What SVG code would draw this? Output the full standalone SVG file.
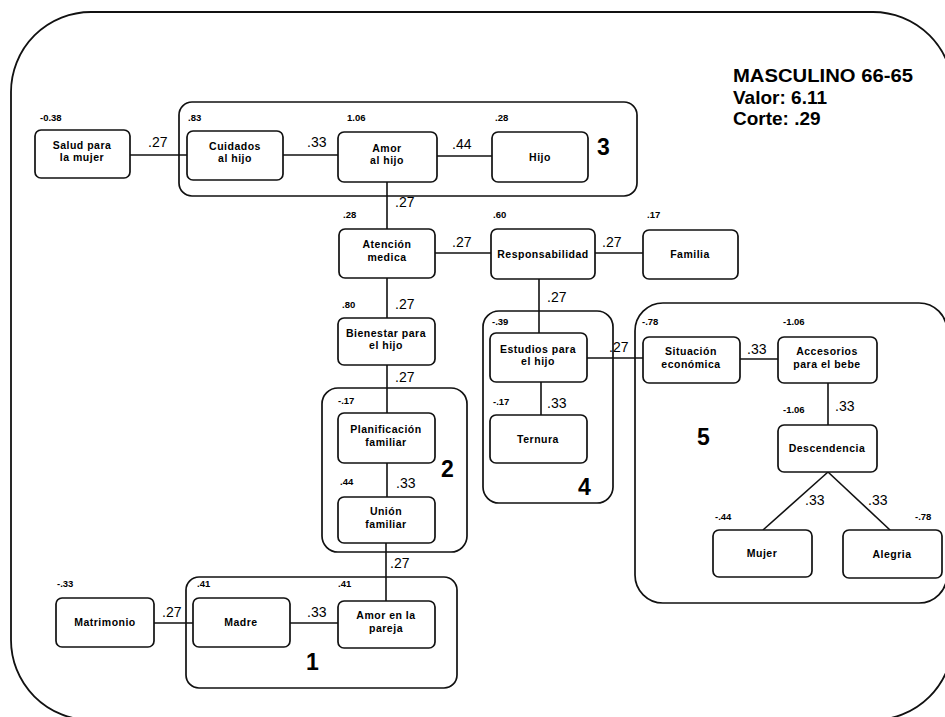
<svg xmlns="http://www.w3.org/2000/svg" width="945" height="717" viewBox="0 0 945 717">
<style>
.frame{fill:none;stroke:#111;stroke-width:1.8}
.grp{fill:none;stroke:#111;stroke-width:1.7}
.edge{stroke:#111;stroke-width:1.6;fill:none}
.box{fill:#fff;stroke:#111;stroke-width:1.7}
text{font-family:"Liberation Sans",Arial,sans-serif;fill:#000}
.nt{font-size:10.5px;font-weight:bold;text-anchor:middle;letter-spacing:0.5px}
.val{font-size:9.5px;font-weight:bold}
.el{font-size:14px}
.gn{font-size:23px;font-weight:bold}
.title{font-size:19px;font-weight:bold}
</style>
<rect class="frame" x="11" y="12" width="942" height="708" rx="80"/>
<g id="title">
<text class="title" x="733" y="82" textLength="180" lengthAdjust="spacingAndGlyphs">MASCULINO 66-65</text>
<text class="title" x="733" y="104">Valor: 6.11</text>
<text class="title" x="733" y="125">Corte: .29</text>
</g>
<g id="groups">
<g id="group3"><rect class="grp" x="179" y="102" width="458" height="94" rx="13"/><text class="gn" x="597" y="155">3</text></g>
<g id="group2"><rect class="grp" x="322" y="388" width="145" height="164" rx="16"/><text class="gn" x="441" y="477">2</text></g>
<g id="group4"><rect class="grp" x="483" y="311" width="130" height="192" rx="16"/><text class="gn" x="578" y="495">4</text></g>
<g id="group5"><rect class="grp" x="635" y="303" width="312" height="300" rx="28"/><text class="gn" x="697" y="445">5</text></g>
<g id="group1"><rect class="grp" x="186" y="577" width="271" height="111" rx="13"/><text class="gn" x="306" y="670">1</text></g>
</g>
<g id="connectors">
<line class="edge" x1="130" y1="155" x2="187" y2="155"/>
<line class="edge" x1="283" y1="155" x2="338" y2="155"/>
<line class="edge" x1="437" y1="156" x2="492" y2="156"/>
<line class="edge" x1="387" y1="182" x2="387" y2="229"/>
<line class="edge" x1="435" y1="253" x2="491" y2="253"/>
<line class="edge" x1="595" y1="253" x2="643" y2="253"/>
<line class="edge" x1="539" y1="279" x2="539" y2="333"/>
<line class="edge" x1="387" y1="278" x2="387" y2="318"/>
<line class="edge" x1="387" y1="365" x2="387" y2="413"/>
<line class="edge" x1="387" y1="463" x2="387" y2="497"/>
<line class="edge" x1="386" y1="543" x2="386" y2="601"/>
<line class="edge" x1="541" y1="382" x2="541" y2="415"/>
<line class="edge" x1="587" y1="358" x2="643" y2="358"/>
<line class="edge" x1="740" y1="359" x2="778" y2="359"/>
<line class="edge" x1="828" y1="383" x2="828" y2="425"/>
<line class="edge" x1="828" y1="472" x2="763" y2="530"/>
<line class="edge" x1="828" y1="472" x2="890" y2="530"/>
<line class="edge" x1="154" y1="623" x2="193" y2="623"/>
<line class="edge" x1="290" y1="623" x2="338" y2="623"/>
<g id="edge-labels">
<text class="el" x="148" y="147">.27</text>
<text class="el" x="307" y="147">.33</text>
<text class="el" x="452" y="149">.44</text>
<text class="el" x="395" y="207">.27</text>
<text class="el" x="452" y="247">.27</text>
<text class="el" x="602" y="247">.27</text>
<text class="el" x="547" y="302">.27</text>
<text class="el" x="395" y="309">.27</text>
<text class="el" x="395" y="382">.27</text>
<text class="el" x="396" y="488">.33</text>
<text class="el" x="547" y="408">.33</text>
<text class="el" x="609" y="352">.27</text>
<text class="el" x="747" y="354">.33</text>
<text class="el" x="835" y="411">.33</text>
<text class="el" x="805" y="505">.33</text>
<text class="el" x="868" y="505">.33</text>
<text class="el" x="390" y="568">.27</text>
<text class="el" x="162" y="617">.27</text>
<text class="el" x="307" y="617">.33</text>
</g>
</g>
<g id="salud"><rect class="box" x="35" y="130" width="95" height="48" rx="6"/><text class="val" x="40" y="121">-0.38</text><text class="nt" x="82" y="149">Salud para</text><text class="nt" x="82" y="161">la mujer</text></g>
<g id="cuidados"><rect class="box" x="187" y="131" width="96" height="49" rx="6"/><text class="val" x="188" y="121">.83</text><text class="nt" x="235" y="150">Cuidados</text><text class="nt" x="235" y="162">al hijo</text></g>
<g id="amorhijo"><rect class="box" x="338" y="132" width="99" height="50" rx="6"/><text class="val" x="347" y="121">1.06</text><text class="nt" x="387" y="152">Amor</text><text class="nt" x="387" y="164">al hijo</text></g>
<g id="hijo"><rect class="box" x="492" y="132" width="96" height="50" rx="6"/><text class="val" x="495" y="121">.28</text><text class="nt" x="540" y="161">Hijo</text></g>
<g id="atencion"><rect class="box" x="339" y="229" width="96" height="49" rx="6"/><text class="val" x="343" y="218">.28</text><text class="nt" x="387" y="248">Atención</text><text class="nt" x="387" y="261">medica</text></g>
<g id="responsabilidad"><rect class="box" x="491" y="229" width="104" height="50" rx="6"/><text class="val" x="493" y="218">.60</text><text class="nt" x="543" y="258">Responsabilidad</text></g>
<g id="familia"><rect class="box" x="643" y="230" width="95" height="49" rx="6"/><text class="val" x="647" y="218">.17</text><text class="nt" x="690" y="258">Familia</text></g>
<g id="bienestar"><rect class="box" x="338" y="318" width="97" height="47" rx="6"/><text class="val" x="342" y="308">.80</text><text class="nt" x="386" y="337">Bienestar para</text><text class="nt" x="386" y="349">el hijo</text></g>
<g id="planificacion"><rect class="box" x="338" y="413" width="97" height="50" rx="6"/><text class="val" x="338" y="404">-.17</text><text class="nt" x="386" y="433">Planificación</text><text class="nt" x="386" y="446">familiar</text></g>
<g id="union"><rect class="box" x="338" y="497" width="97" height="46" rx="6"/><text class="val" x="340" y="485">.44</text><text class="nt" x="386" y="515">Unión</text><text class="nt" x="386" y="528">familiar</text></g>
<g id="estudios"><rect class="box" x="490" y="333" width="97" height="49" rx="6"/><text class="val" x="492" y="325">-.39</text><text class="nt" x="538" y="353">Estudios para</text><text class="nt" x="538" y="365">el hijo</text></g>
<g id="ternura"><rect class="box" x="490" y="415" width="97" height="48" rx="6"/><text class="val" x="493" y="405">-.17</text><text class="nt" x="538" y="443">Ternura</text></g>
<g id="situacion"><rect class="box" x="643" y="337" width="97" height="46" rx="6"/><text class="val" x="642" y="325">-.78</text><text class="nt" x="691" y="355">Situación</text><text class="nt" x="691" y="368">económica</text></g>
<g id="accesorios"><rect class="box" x="778" y="337" width="99" height="46" rx="6"/><text class="val" x="783" y="325">-1.06</text><text class="nt" x="827" y="355">Accesorios</text><text class="nt" x="827" y="368">para el bebe</text></g>
<g id="descendencia"><rect class="box" x="778" y="425" width="99" height="47" rx="6"/><text class="val" x="783" y="413">-1.06</text><text class="nt" x="827" y="452">Descendencia</text></g>
<g id="mujer"><rect class="box" x="713" y="530" width="99" height="47" rx="6"/><text class="val" x="715" y="520">-.44</text><text class="nt" x="762" y="557">Mujer</text></g>
<g id="alegria"><rect class="box" x="843" y="530" width="99" height="48" rx="6"/><text class="val" x="915" y="520">-.78</text><text class="nt" x="892" y="558">Alegria</text></g>
<g id="matrimonio"><rect class="box" x="56" y="598" width="98" height="49" rx="6"/><text class="val" x="57" y="587">-.33</text><text class="nt" x="105" y="626">Matrimonio</text></g>
<g id="madre"><rect class="box" x="193" y="598" width="97" height="49" rx="6"/><text class="val" x="197" y="587">.41</text><text class="nt" x="241" y="626">Madre</text></g>
<g id="amorpareja"><rect class="box" x="338" y="601" width="97" height="47" rx="6"/><text class="val" x="338" y="587">.41</text><text class="nt" x="386" y="619">Amor en la</text><text class="nt" x="386" y="632">pareja</text></g>
</svg>
